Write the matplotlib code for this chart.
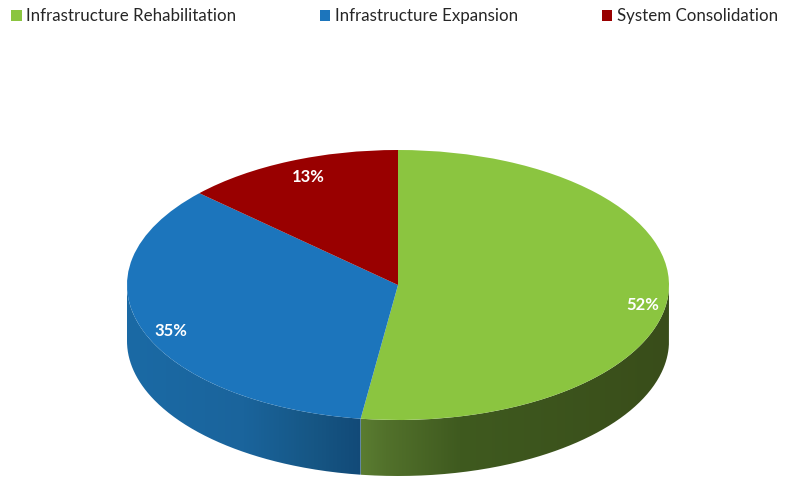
import numpy as np
import matplotlib
matplotlib.use("Agg")
import matplotlib.pyplot as plt
from matplotlib.path import Path
from matplotlib.patches import PathPatch
from matplotlib.colors import LinearSegmentedColormap

categories = ["Infrastructure Rehabilitation", "Infrastructure Expansion", "System Consolidation"]
values = [52.2, 34.7, 13.1]
colors = ["#8BC540", "#1C75BC", "#990000"]

W, H = 788, 478
CX, CY, RX, RY, DEPTH = 398, 285, 271, 135, 56
wall_stops = [
    [(0.0, "#5A7C31"), (0.08, "#52712B"), (0.32, "#3F5A1F"), (1.0, "#394D1A")],
    [(0.0, "#1B6AA5"), (0.5, "#1A649C"), (0.8, "#165684"), (1.0, "#124A78")],
    [(0.0, "#660000"), (1.0, "#660000")],
]
label_px = [(643, 305), (171, 331), (308, 177)]

plt.rcParams["font.family"] = ["Lato", "DejaVu Sans"]
fig = plt.figure(figsize=(W / 100, H / 100), dpi=100)
ax = fig.add_axes([0, 0, 1, 1])

wedges, _, autotexts = ax.pie(values, colors=colors, startangle=90, counterclock=False,
                              autopct="%.0f%%", radius=1,
                              wedgeprops=dict(linewidth=0, zorder=3),
                              textprops=dict(color="white", fontsize=12, fontweight="bold"))
ax.set_aspect("auto")
xlim = (-CX / RX, (W - CX) / RX)
ylim = (-(H - CY) / RY, CY / RY)


def px(x, y):
    return (x - CX) / RX, (CY - y) / RY


for t, (x, y) in zip(autotexts, label_px):
    t.set_position(px(x, y))
    t.set_zorder(5)

# side wall of each slice, only where it faces the viewer (lower half of the ellipse)
d = DEPTH / RY
for w, stops, name in zip(wedges, wall_stops, categories):
    lo, hi = max(w.theta1, -180.0), min(w.theta2, 0.0)
    if lo >= hi:
        continue
    th = np.radians(np.linspace(lo, hi, 200))
    xs, ys = np.cos(th), np.sin(th)
    verts = np.r_[np.c_[xs, ys], np.c_[xs[::-1], ys[::-1] - d], [[xs[0], ys[0]]]]
    clip = PathPatch(Path(verts), transform=ax.transData, fc="none", ec="none")
    ax.add_patch(clip)
    cmap = LinearSegmentedColormap.from_list(name, stops)
    grad = np.linspace(0, 1, 512)[None, :]
    im = ax.imshow(grad, cmap=cmap, extent=(xs.min(), xs.max(), -2, 1), aspect="auto", zorder=2)
    im.set_clip_path(clip)

ax.set_xlim(xlim)
ax.set_ylim(ylim)
ax.set_axis_off()

leg = ax.legend(wedges, categories, ncols=3, frameon=False, fontsize=12.2,
                loc="upper left", bbox_to_anchor=(11 / W, 1 - 8 / H), bbox_transform=fig.transFigure,
                borderpad=0, borderaxespad=0, handlelength=0.62, handleheight=0.62,
                handletextpad=0.28, columnspacing=4.93, labelspacing=0)
for t in leg.get_texts():
    t.set_color("#262626")

fig.savefig("out.png", dpi=100)
